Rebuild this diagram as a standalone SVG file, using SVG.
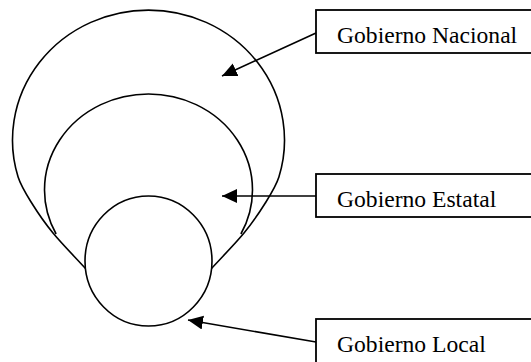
<svg xmlns="http://www.w3.org/2000/svg" width="531" height="362" viewBox="0 0 531 362">
  <style>
    .shape { fill: none; stroke: #000; stroke-width: 1.6; }
    .box { fill: #fff; stroke: #000; stroke-width: 1.8; }
    .label { font-family: "Liberation Serif", "Times New Roman", serif; font-size: 23.6px; fill: #000; }
    .conn { stroke: #000; stroke-width: 1.6; fill: none; marker-end: url(#arrow); }
  </style>
  <defs>
    <marker id="arrow" markerUnits="userSpaceOnUse" markerWidth="16" markerHeight="16" viewBox="0 0 16 16" refX="15" refY="7" orient="auto">
      <path d="M15,7 L0,0 L0,14 Z" fill="#000"/>
    </marker>
  </defs>
  <rect width="531" height="362" fill="#fff"/>
  <g id="nacional-circle">
    <path class="shape" d="M86,269 C74.3,256.3 61.9,243.8 53,233 C44.1,222.2 37.5,212.3 31.7,203 C25.9,193.7 20.8,185.7 18.1,177 A136,130 0 1 1 278.9,177 C276.2,185.7 271.1,193.7 265.3,203 C259.5,212.3 252.9,222.2 244,233 C235.1,243.8 222.7,256.3 211,269"/>
  </g>
  <g id="estatal-circle">
    <path class="shape" d="M56.1,234 A104,96 0 1 1 240.9,234"/>
  </g>
  <g id="local-circle">
    <ellipse cx="148.5" cy="261" rx="63.5" ry="65" fill="#fff" stroke="#000" stroke-width="1.6"/>
  </g>
  <g id="connectors">
    <line class="conn" x1="316" y1="33" x2="222" y2="76"/>
    <line class="conn" x1="316" y1="196" x2="222" y2="196"/>
    <line class="conn" x1="316" y1="342" x2="188" y2="320"/>
  </g>
  <g id="box-nacional">
    <rect class="box" x="316" y="10" width="240" height="43"/>
    <text class="label" x="337" y="42.7">Gobierno Nacional</text>
  </g>
  <g id="box-estatal">
    <rect class="box" x="316" y="174" width="240" height="43"/>
    <text class="label" x="337" y="206.7">Gobierno Estatal</text>
  </g>
  <g id="box-local">
    <rect class="box" x="316" y="319" width="240" height="60"/>
    <text class="label" x="337" y="351.7">Gobierno Local</text>
  </g>
</svg>
